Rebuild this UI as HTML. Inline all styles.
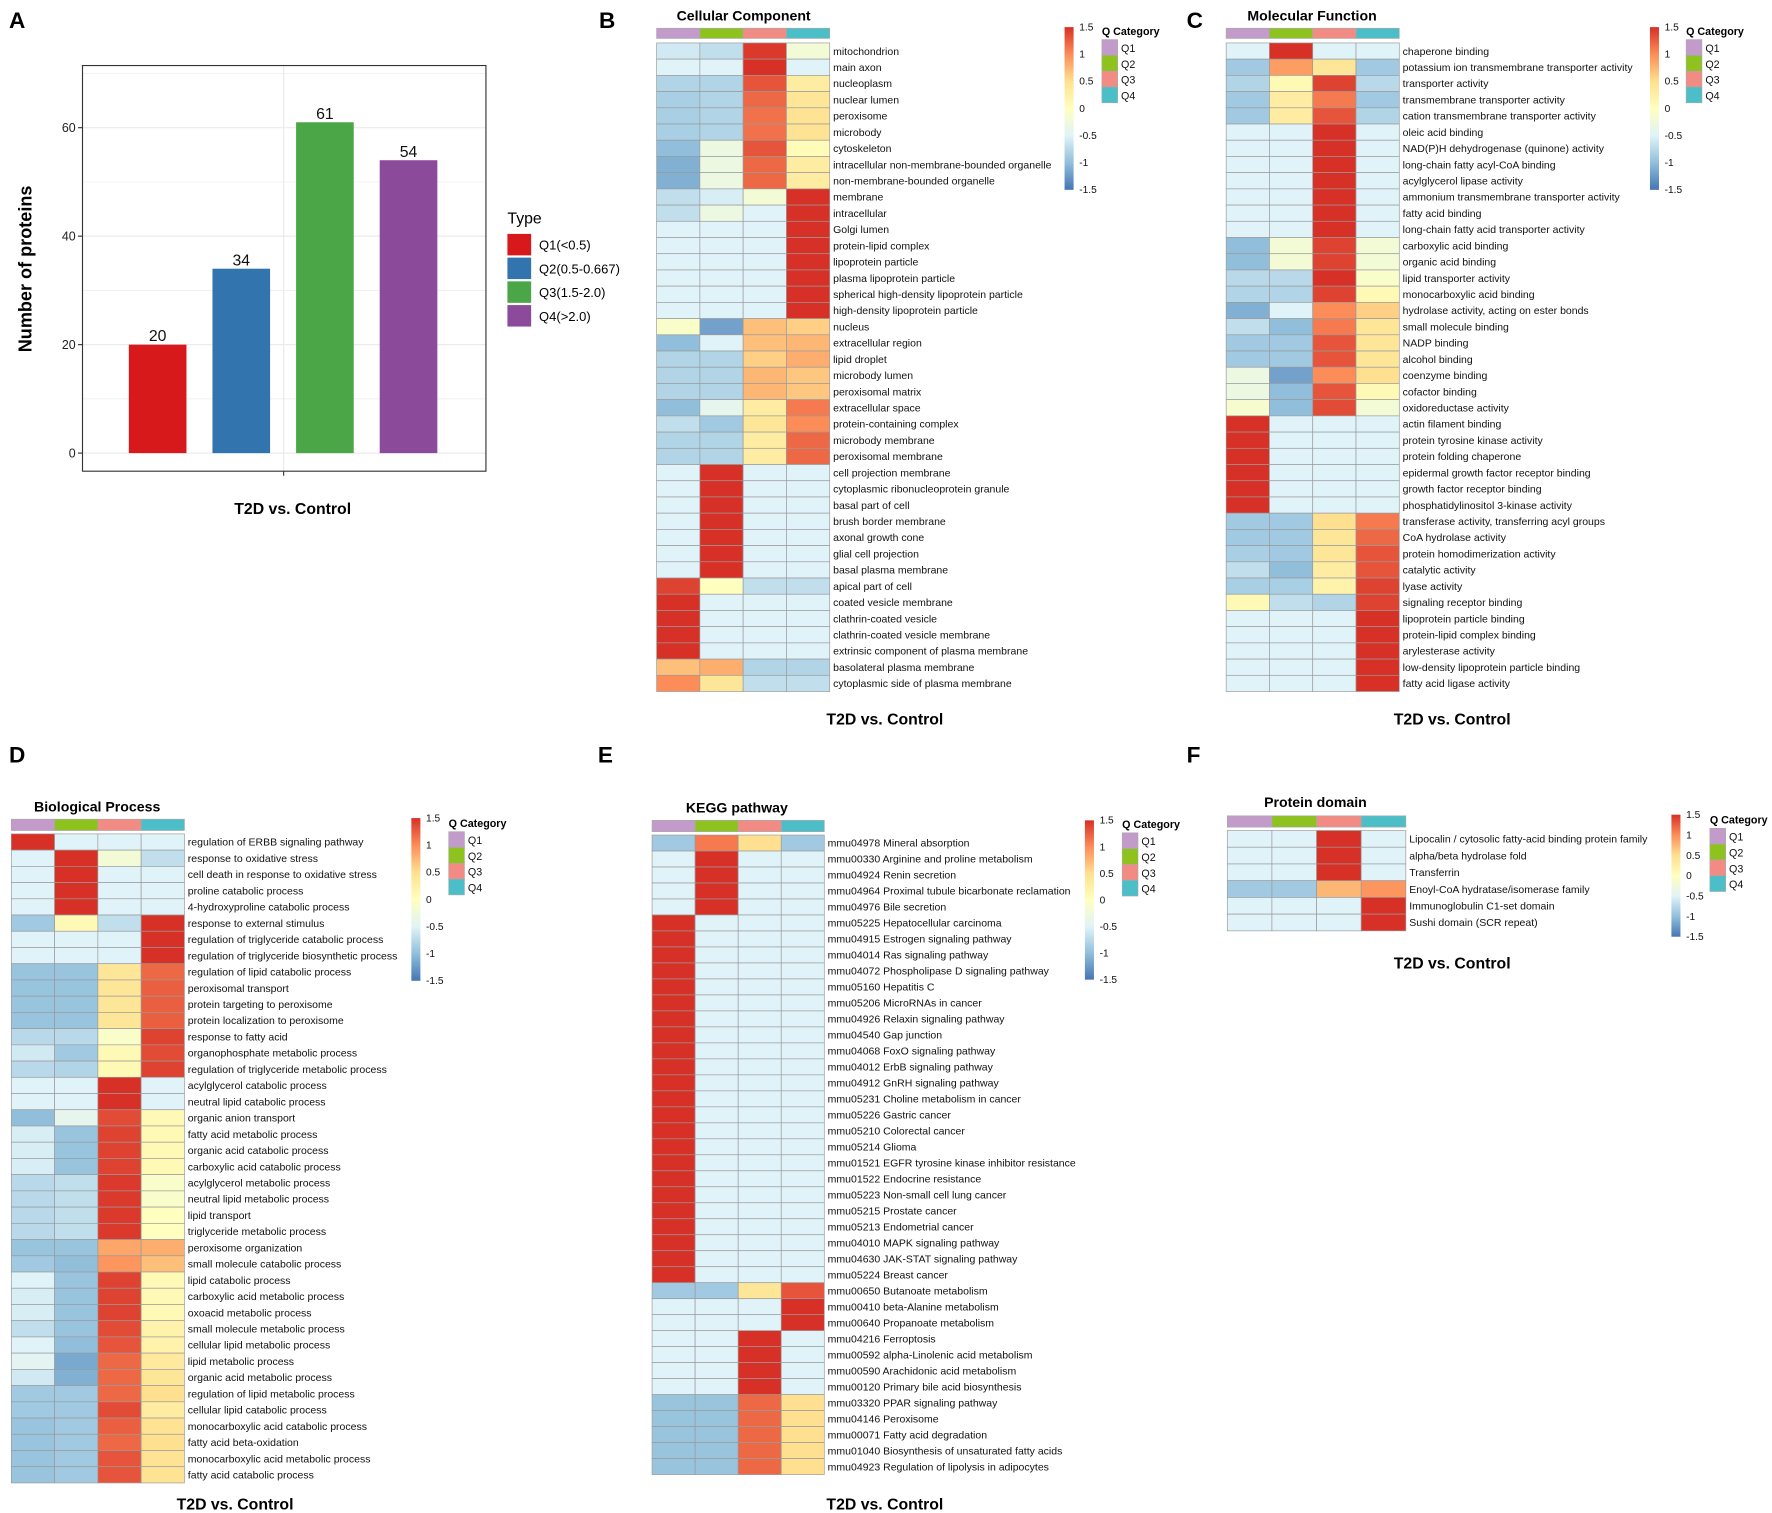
<!DOCTYPE html>
<html><head><meta charset="utf-8"><title>T2D vs Control figure</title>
<style>
html,body{margin:0;padding:0;background:#fff;}
svg{display:block;font-family:"Liberation Sans",Arial,sans-serif;}
</style></head>
<body>
<svg id="fig" xmlns="http://www.w3.org/2000/svg" width="1772" height="1513" viewBox="0 0 1568 1339" preserveAspectRatio="none"></svg>
<script>
// ---------- Panel A data ----------
const barCategories = ["Q1(<0.5)","Q2(0.5-0.667)","Q3(1.5-2.0)","Q4(>2.0)"];
const barValues = [20,34,61,54];
const barTicks = [0,20,40,60];

// ---------- Panel B data (Cellular Component) ----------
const ccLabels = ["mitochondrion","main axon","nucleoplasm","nuclear lumen","peroxisome","microbody","cytoskeleton","intracellular non-membrane-bounded organelle","non-membrane-bounded organelle","membrane","intracellular","Golgi lumen","protein-lipid complex","lipoprotein particle","plasma lipoprotein particle","spherical high-density lipoprotein particle","high-density lipoprotein particle","nucleus","extracellular region","lipid droplet","microbody lumen","peroxisomal matrix","extracellular space","protein-containing complex","microbody membrane","peroxisomal membrane","cell projection membrane","cytoplasmic ribonucleoprotein granule","basal part of cell","brush border membrane","axonal growth cone","glial cell projection","basal plasma membrane","apical part of cell","coated vesicle membrane","clathrin-coated vesicle","clathrin-coated vesicle membrane","extrinsic component of plasma membrane","basolateral plasma membrane","cytoplasmic side of plasma membrane"];
const ccQ1 = [-0.6,-0.5,-0.8,-0.85,-0.85,-0.85,-1.0,-1.1,-1.1,-0.7,-0.7,-0.5,-0.5,-0.5,-0.5,-0.5,-0.5,-0.1,-1.0,-0.8,-0.8,-0.8,-1.0,-0.7,-0.8,-0.8,-0.5,-0.5,-0.5,-0.5,-0.5,-0.5,-0.5,1.4,1.5,1.5,1.5,1.5,0.7,1.0];
const ccQ2 = [-0.7,-0.5,-0.8,-0.8,-0.8,-0.8,-0.3,-0.3,-0.3,-0.55,-0.3,-0.5,-0.5,-0.5,-0.5,-0.5,-0.5,-1.2,-0.5,-0.8,-0.8,-0.8,-0.4,-0.9,-0.8,-0.8,1.5,1.5,1.5,1.5,1.5,1.5,1.5,0.0,-0.5,-0.5,-0.5,-0.5,0.8,0.4];
const ccQ3 = [1.45,1.5,1.3,1.2,1.15,1.15,1.3,1.2,1.2,-0.2,-0.5,-0.5,-0.5,-0.5,-0.5,-0.5,-0.5,0.7,0.7,0.6,0.75,0.75,0.3,0.4,0.3,0.3,-0.5,-0.5,-0.5,-0.5,-0.5,-0.5,-0.5,-0.7,-0.5,-0.5,-0.5,-0.5,-0.8,-0.7];
const ccQ4 = [-0.2,-0.5,0.3,0.4,0.45,0.45,0.05,0.3,0.3,1.5,1.5,1.5,1.5,1.5,1.5,1.5,1.5,0.6,0.75,0.8,0.65,0.65,1.1,1.0,1.2,1.2,-0.5,-0.5,-0.5,-0.5,-0.5,-0.5,-0.5,-0.7,-0.5,-0.5,-0.5,-0.5,-0.8,-0.7];

// ---------- Panel C data (Molecular Function) ----------
const mfLabels = ["chaperone binding","potassium ion transmembrane transporter activity","transporter activity","transmembrane transporter activity","cation transmembrane transporter activity","oleic acid binding","NAD(P)H dehydrogenase (quinone) activity","long-chain fatty acyl-CoA binding","acylglycerol lipase activity","ammonium transmembrane transporter activity","fatty acid binding","long-chain fatty acid transporter activity","carboxylic acid binding","organic acid binding","lipid transporter activity","monocarboxylic acid binding","hydrolase activity, acting on ester bonds","small molecule binding","NADP binding","alcohol binding","coenzyme binding","cofactor binding","oxidoreductase activity","actin filament binding","protein tyrosine kinase activity","protein folding chaperone","epidermal growth factor receptor binding","growth factor receptor binding","phosphatidylinositol 3-kinase activity","transferase activity, transferring acyl groups","CoA hydrolase activity","protein homodimerization activity","catalytic activity","lyase activity","signaling receptor binding","lipoprotein particle binding","protein-lipid complex binding","arylesterase activity","low-density lipoprotein particle binding","fatty acid ligase activity"];
const mfQ1 = [-0.5,-0.9,-0.8,-0.9,-0.9,-0.5,-0.5,-0.5,-0.5,-0.5,-0.5,-0.5,-1.0,-1.0,-0.75,-0.8,-1.1,-0.7,-0.9,-0.9,-0.3,-0.3,-0.15,1.5,1.5,1.5,1.5,1.5,1.5,-0.9,-0.9,-0.85,-0.7,-0.85,0.1,-0.5,-0.5,-0.5,-0.5,-0.5];
const mfQ2 = [1.5,0.9,0.1,0.3,0.3,-0.5,-0.5,-0.5,-0.5,-0.5,-0.5,-0.5,-0.2,-0.2,-0.75,-0.8,-0.5,-1.0,-0.9,-0.9,-1.2,-1.0,-1.0,-0.5,-0.5,-0.5,-0.5,-0.5,-0.5,-0.9,-0.9,-0.9,-1.0,-0.85,-0.7,-0.5,-0.5,-0.5,-0.5,-0.5];
const mfQ3 = [-0.5,0.4,1.4,1.1,1.3,1.5,1.5,1.5,1.5,1.5,1.5,1.5,1.4,1.4,1.5,1.4,1.0,1.1,1.3,1.3,1.0,1.3,1.35,-0.5,-0.5,-0.5,-0.5,-0.5,-0.5,0.5,0.4,0.4,0.3,0.2,-0.8,-0.5,-0.5,-0.5,-0.5,-0.5];
const mfQ4 = [-0.5,-0.9,-0.75,-0.9,-0.8,-0.5,-0.5,-0.5,-0.5,-0.5,-0.5,-0.5,-0.2,-0.2,-0.1,0.1,0.6,0.4,0.4,0.4,0.5,0.1,-0.2,-0.5,-0.5,-0.5,-0.5,-0.5,-0.5,1.1,1.2,1.3,1.3,1.4,1.4,1.5,1.5,1.5,1.5,1.5];

// ---------- Panel D data (Biological Process) ----------
const bpLabels = ["regulation of ERBB signaling pathway","response to oxidative stress","cell death in response to oxidative stress","proline catabolic process","4-hydroxyproline catabolic process","response to external stimulus","regulation of triglyceride catabolic process","regulation of triglyceride biosynthetic process","regulation of lipid catabolic process","peroxisomal transport","protein targeting to peroxisome","protein localization to peroxisome","response to fatty acid","organophosphate metabolic process","regulation of triglyceride metabolic process","acylglycerol catabolic process","neutral lipid catabolic process","organic anion transport","fatty acid metabolic process","organic acid catabolic process","carboxylic acid catabolic process","acylglycerol metabolic process","neutral lipid metabolic process","lipid transport","triglyceride metabolic process","peroxisome organization","small molecule catabolic process","lipid catabolic process","carboxylic acid metabolic process","oxoacid metabolic process","small molecule metabolic process","cellular lipid metabolic process","lipid metabolic process","organic acid metabolic process","regulation of lipid metabolic process","cellular lipid catabolic process","monocarboxylic acid catabolic process","fatty acid beta-oxidation","monocarboxylic acid metabolic process","fatty acid catabolic process"];
const bpQ1 = [1.5,-0.5,-0.5,-0.5,-0.5,-0.9,-0.5,-0.5,-0.95,-0.95,-0.95,-0.95,-0.75,-0.6,-0.75,-0.5,-0.5,-1.0,-0.55,-0.55,-0.55,-0.75,-0.75,-0.75,-0.75,-0.95,-0.9,-0.5,-0.55,-0.55,-0.7,-0.5,-0.45,-0.6,-0.9,-0.9,-0.95,-0.95,-0.95,-0.95];
const bpQ2 = [-0.5,1.5,1.5,1.5,1.5,0.1,-0.5,-0.5,-0.95,-0.95,-0.95,-0.95,-0.75,-0.9,-0.8,-0.5,-0.5,-0.4,-0.95,-0.95,-0.95,-0.7,-0.7,-0.7,-0.7,-0.95,-1.0,-0.95,-0.95,-0.95,-0.95,-1.0,-1.15,-1.1,-0.9,-0.9,-0.9,-0.9,-0.9,-0.9];
const bpQ3 = [-0.5,-0.2,-0.5,-0.5,-0.5,-0.7,-0.5,-0.5,0.4,0.4,0.4,0.4,-0.1,0.1,0.1,1.5,1.5,1.35,1.4,1.4,1.4,1.45,1.45,1.45,1.45,0.85,0.95,1.4,1.4,1.4,1.35,1.3,1.2,1.2,1.2,1.35,1.25,1.2,1.3,1.3];
const bpQ4 = [-0.5,-0.7,-0.5,-0.5,-0.5,1.5,1.5,1.5,1.2,1.25,1.25,1.25,1.4,1.35,1.4,-0.5,-0.5,0.1,0.1,0.1,0.1,-0.1,-0.1,0.0,0.0,0.8,0.7,0.1,0.1,0.1,0.2,0.2,0.35,0.4,0.5,0.3,0.45,0.5,0.45,0.45];

// ---------- Panel E data (KEGG pathway) ----------
const kgLabels = ["mmu04978 Mineral absorption","mmu00330 Arginine and proline metabolism","mmu04924 Renin secretion","mmu04964 Proximal tubule bicarbonate reclamation","mmu04976 Bile secretion","mmu05225 Hepatocellular carcinoma","mmu04915 Estrogen signaling pathway","mmu04014 Ras signaling pathway","mmu04072 Phospholipase D signaling pathway","mmu05160 Hepatitis C","mmu05206 MicroRNAs in cancer","mmu04926 Relaxin signaling pathway","mmu04540 Gap junction","mmu04068 FoxO signaling pathway","mmu04012 ErbB signaling pathway","mmu04912 GnRH signaling pathway","mmu05231 Choline metabolism in cancer","mmu05226 Gastric cancer","mmu05210 Colorectal cancer","mmu05214 Glioma","mmu01521 EGFR tyrosine kinase inhibitor resistance","mmu01522 Endocrine resistance","mmu05223 Non-small cell lung cancer","mmu05215 Prostate cancer","mmu05213 Endometrial cancer","mmu04010 MAPK signaling pathway","mmu04630 JAK-STAT signaling pathway","mmu05224 Breast cancer","mmu00650 Butanoate metabolism","mmu00410 beta-Alanine metabolism","mmu00640 Propanoate metabolism","mmu04216 Ferroptosis","mmu00592 alpha-Linolenic acid metabolism","mmu00590 Arachidonic acid metabolism","mmu00120 Primary bile acid biosynthesis","mmu03320 PPAR signaling pathway","mmu04146 Peroxisome","mmu00071 Fatty acid degradation","mmu01040 Biosynthesis of unsaturated fatty acids","mmu04923 Regulation of lipolysis in adipocytes"];
const kgQ1 = [-0.9,-0.5,-0.5,-0.5,-0.5,1.5,1.5,1.5,1.5,1.5,1.5,1.5,1.5,1.5,1.5,1.5,1.5,1.5,1.5,1.5,1.5,1.5,1.5,1.5,1.5,1.5,1.5,1.5,-0.9,-0.5,-0.5,-0.5,-0.5,-0.5,-0.5,-0.95,-0.95,-0.95,-0.95,-0.95];
const kgQ2 = [1.1,1.5,1.5,1.5,1.5,-0.5,-0.5,-0.5,-0.5,-0.5,-0.5,-0.5,-0.5,-0.5,-0.5,-0.5,-0.5,-0.5,-0.5,-0.5,-0.5,-0.5,-0.5,-0.5,-0.5,-0.5,-0.5,-0.5,-0.9,-0.5,-0.5,-0.5,-0.5,-0.5,-0.5,-0.95,-0.95,-0.95,-0.95,-0.95];
const kgQ3 = [0.5,-0.5,-0.5,-0.5,-0.5,-0.5,-0.5,-0.5,-0.5,-0.5,-0.5,-0.5,-0.5,-0.5,-0.5,-0.5,-0.5,-0.5,-0.5,-0.5,-0.5,-0.5,-0.5,-0.5,-0.5,-0.5,-0.5,-0.5,0.4,-0.5,-0.5,1.5,1.5,1.5,1.5,1.2,1.2,1.2,1.2,1.2];
const kgQ4 = [-0.9,-0.5,-0.5,-0.5,-0.5,-0.5,-0.5,-0.5,-0.5,-0.5,-0.5,-0.5,-0.5,-0.5,-0.5,-0.5,-0.5,-0.5,-0.5,-0.5,-0.5,-0.5,-0.5,-0.5,-0.5,-0.5,-0.5,-0.5,1.3,1.5,1.5,-0.5,-0.5,-0.5,-0.5,0.5,0.5,0.5,0.5,0.5];

// ---------- Panel F data (Protein domain) ----------
const pdLabels = ["Lipocalin / cytosolic fatty-acid binding protein family","alpha/beta hydrolase fold","Transferrin","Enoyl-CoA hydratase/isomerase family","Immunoglobulin C1-set domain","Sushi domain (SCR repeat)"];
const pdQ1 = [-0.5,-0.5,-0.5,-0.9,-0.5,-0.5];
const pdQ2 = [-0.5,-0.5,-0.5,-0.9,-0.5,-0.5];
const pdQ3 = [1.5,1.5,1.5,0.75,-0.5,-0.5];
const pdQ4 = [-0.5,-0.5,-0.5,0.95,1.5,1.5];

const scaleTicks = ["1.5","1","0.5","0","-0.5","-1","-1.5"];
const qNames = ["Q1","Q2","Q3","Q4"];

const NS = "http://www.w3.org/2000/svg";
const svg = document.getElementById('fig');
function mk(tag, attrs, parent, text){
  const e = document.createElementNS(NS, tag);
  for (const k in attrs) e.setAttribute(k, attrs[k]);
  if (text !== undefined) e.textContent = text;
  (parent || svg).appendChild(e);
  return e;
}
const annoColors = ["#C39BCB","#8DC21F","#F28B84","#4CBEC8"];
const stops = [[69,117,180],[145,191,219],[224,243,248],[255,255,191],[254,224,144],[252,141,89],[215,48,39]];
function heatColor(v){
  let t = (Math.max(-1.5, Math.min(1.5, v)) + 1.5) / 3 * 6;
  let i = Math.min(5, Math.floor(t)), f = t - i;
  const a = stops[i], b = stops[i+1];
  return "rgb(" + [0,1,2].map(k => Math.round(a[k] + (b[k]-a[k])*f)).join(",") + ")";
}
function letter(ch, x, y){
  const t = mk('text', {x:x, y:y, 'font-size':20, 'font-weight':'bold', fill:'#000'}, svg, ch);
  
  
}

// ---------- Panel A ----------
(function(){
  const g = mk('g', {});
  
  
  const x0 = 73, x1 = 430, y0 = 58, y1 = 417;
  const yZero = 401, pxPerUnit = 4.8;
  const yScale = v => yZero - v * pxPerUnit;
  const slotStart = 114, slotStep = 74, barW = 51;
  const xScale = i => slotStart + i * slotStep;
  mk('rect', {x:x0, y:y0, width:x1-x0, height:y1-y0, fill:'#fff'}, g);
  for (let v = 0; v <= 70; v += 10) {
    const gl = mk('line', {x1:x0, x2:x1, y1:yScale(v), y2:yScale(v), stroke:'#ebebeb', 'stroke-width': v % 20 === 0 ? 1.1 : 0.6}, g);
    
    
  }
  mk('line', {x1:251, x2:251, y1:y0, y2:y1, stroke:'#ebebeb', 'stroke-width':1.1}, g);
  barValues.forEach((v, i) => {
    const r = mk('rect', {x:xScale(i), y:yScale(v), width:barW, height:v*pxPerUnit, fill:["#D7191C","#3274AD","#4AA646","#8C4A9B"][i]}, g);
    
    
    const t = mk('text', {x:xScale(i)+barW/2, y:yScale(v)-3, 'font-size':14, 'text-anchor':'middle', fill:'#111'}, g, String(v));
    
    
  });
  mk('rect', {x:x0, y:y0, width:x1-x0, height:y1-y0, fill:'none', stroke:'#333', 'stroke-width':1}, g);
  barTicks.forEach(v => {
    mk('line', {x1:x0-4, x2:x0, y1:yScale(v), y2:yScale(v), stroke:'#333'}, g);
    const t = mk('text', {x:x0-6, y:yScale(v)+4, 'font-size':11, 'text-anchor':'end', fill:'#222'}, g, String(v));
    
    
  });
  mk('line', {x1:251, x2:251, y1:y1, y2:y1+4, stroke:'#333'}, g);
  const yt = mk('text', {x:0, y:0, 'font-size':16, 'font-weight':'bold', 'text-anchor':'middle', fill:'#000', transform:'translate(28,238) rotate(-90)'}, g, 'Number of proteins');
  
  
  const xt = mk('text', {x:259, y:455, 'font-size':14, 'font-weight':'bold', 'text-anchor':'middle', fill:'#000'}, g, 'T2D vs. Control');
  
  
  const lt = mk('text', {x:449, y:198, 'font-size':14, fill:'#000'}, g, 'Type');
  
  
  barCategories.forEach((c, i) => {
    const r = mk('rect', {x:449, y:207+i*21, width:21, height:19, fill:["#D7191C","#3274AD","#4AA646","#8C4A9B"][i]}, g);
    
    
    const t = mk('text', {x:477, y:221+i*21, 'font-size':11.5, fill:'#000'}, g, c);
    
    
  });
})();
letter('A', 8, 25);

// ---------- Heatmap builder ----------
function heatmap(cfg, labels, q1, q2, q3, q4){
  const g = mk('g', {});
  
  
  const cw = cfg.cw, rh = cfg.rh;
  const cols = [q1, q2, q3, q4];
  const tt = mk('text', {x:cfg.titleX, y:cfg.titleY, 'font-size':12.5, 'font-weight':'bold', 'text-anchor':'middle', fill:'#000'}, g, cfg.title);
  
  
  for (let c = 0; c < 4; c++) {
    const a = mk('rect', {x:cfg.gx + c*cw, y:cfg.annoY, width:cw, height:cfg.annoH, fill:annoColors[c], stroke:'#aaa', 'stroke-width':0.6}, g);
    
    
  }
  labels.forEach((lab, r) => {
    for (let c = 0; c < 4; c++) {
      const cell = mk('rect', {x:cfg.gx + c*cw, y:cfg.gy + r*rh, width:cw, height:rh, fill:heatColor(cols[c][r]), stroke:'#9a9a9a', 'stroke-width':0.6}, g);
      
      
    }
    const t = mk('text', {x:cfg.gx + 4*cw + 3, y:cfg.gy + r*rh + rh/2 + 3.3, 'font-size':cfg.fs || 9.3, fill:'#111'}, g, lab);
    
    
  });
  // colorbar
  const gid = 'grad-' + cfg.name;
  const defs = mk('defs', {}, g);
  const lg = mk('linearGradient', {id:gid, x1:0, y1:0, x2:0, y2:1}, defs);
  stops.slice().reverse().forEach((s, i) => mk('stop', {offset:(i/6), 'stop-color':'rgb(' + s.join(',') + ')'}, lg));
  const cb = mk('rect', {x:cfg.cbX, y:cfg.cbTop, width:8, height:cfg.cbBot-cfg.cbTop, fill:'url(#' + gid + ')'}, g);
  
  
  scaleTicks.forEach((s, i) => {
    const y = cfg.cbTop + (cfg.cbBot - cfg.cbTop) * i / 6;
    const t = mk('text', {x:cfg.cbX + 13, y:y + 3, 'font-size':9, fill:'#111'}, g, s);
    
    
  });
  const lt = mk('text', {x:cfg.legX, y:cfg.legY, 'font-size':9.5, 'font-weight':'bold', fill:'#000'}, g, 'Q Category');
  
  
  qNames.forEach((q, i) => {
    const r = mk('rect', {x:cfg.legX, y:cfg.legY + 4 + i*14, width:14, height:14, fill:annoColors[i], stroke:'#aaa', 'stroke-width':0.5}, g);
    
    
    const t = mk('text', {x:cfg.legX + 17, y:cfg.legY + 15 + i*14, 'font-size':9.5, fill:'#111'}, g, q);
    
    
  });
  const ft = mk('text', {x:cfg.footX, y:cfg.footY, 'font-size':14, 'font-weight':'bold', 'text-anchor':'middle', fill:'#000'}, g, 'T2D vs. Control');
  
  
}

heatmap({name:'cellular-component-heatmap', title:'Cellular Component', titleX:658, titleY:18, gx:581, cw:38.3, annoY:25, annoH:9, gy:38, rh:14.35, cbX:942, cbTop:24, cbBot:168, legX:975, legY:31, footX:783, footY:641}, ccLabels, ccQ1, ccQ2, ccQ3, ccQ4);
letter('B', 530, 25);

heatmap({name:'molecular-function-heatmap', title:'Molecular Function', titleX:1161, titleY:18, gx:1085, cw:38.3, annoY:25, annoH:9, gy:38, rh:14.35, cbX:1460, cbTop:24, cbBot:168, legX:1492, legY:31, footX:1285, footY:641}, mfLabels, mfQ1, mfQ2, mfQ3, mfQ4);
letter('C', 1050, 25);

heatmap({name:'biological-process-heatmap', title:'Biological Process', titleX:86, titleY:718, gx:10, cw:38.3, annoY:725, annoH:10, gy:738, rh:14.36, cbX:364, cbTop:724, cbBot:868, legX:397, legY:732, footX:208, footY:1336}, bpLabels, bpQ1, bpQ2, bpQ3, bpQ4);
letter('D', 8, 675);

heatmap({name:'kegg-pathway-heatmap', title:'KEGG pathway', titleX:652, titleY:719, gx:577, cw:38.1, annoY:726, annoH:10, gy:739, rh:14.15, cbX:960, cbTop:726, cbBot:867, legX:993, legY:733, footX:783, footY:1336}, kgLabels, kgQ1, kgQ2, kgQ3, kgQ4);
letter('E', 529, 675);

heatmap({name:'protein-domain-heatmap', title:'Protein domain', titleX:1164, titleY:714, gx:1086, cw:39.5, annoY:722, annoH:10, gy:735, rh:14.8, cbX:1479, cbTop:721, cbBot:829, legX:1513, legY:729, footX:1285, footY:857}, pdLabels, pdQ1, pdQ2, pdQ3, pdQ4);
letter('F', 1050, 675);
</script>
</body></html>
